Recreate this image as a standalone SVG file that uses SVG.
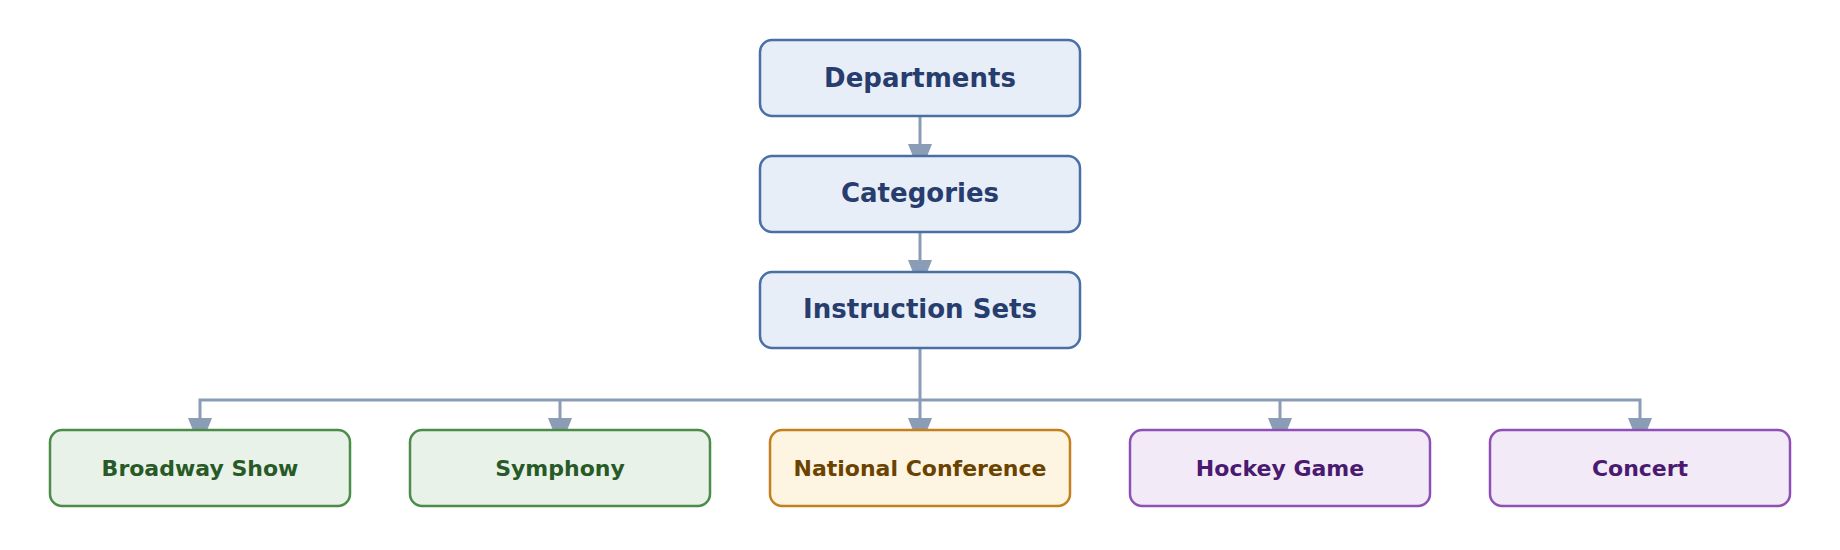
<svg xmlns="http://www.w3.org/2000/svg" width="1840" height="550" viewBox="0 0 1840 550">
  <style>
    .box { stroke-width: 2.5; }
    .blue { fill: #E8EEF8; stroke: #4A6FA5; }
    .green { fill: #E9F2E9; stroke: #4A8C48; }
    .orange { fill: #FDF4E2; stroke: #C4801E; }
    .purple { fill: #F2EAF6; stroke: #8E50B6; }
    .t1 { font-family: "DejaVu Sans", sans-serif; font-weight: bold; font-size: 26px; fill: #263D6E; text-anchor: middle; }
    .t2 { font-family: "DejaVu Sans", sans-serif; font-weight: bold; font-size: 22px; text-anchor: middle; }
    .tg { fill: #285A28; }
    .to { fill: #6B4300; }
    .tp { fill: #4A1A70; }
    .conn { stroke: #8A9CB6; stroke-width: 3; fill: none; }
    .head { fill: #8A9CB6; }
  </style>
  <g id="connectors">
    <path class="conn" d="M920 116 V150"/>
    <path class="conn" d="M920 232 V266"/>
    <path class="conn" d="M920 348 V424 M200 424 V400 H1640 V424 M560 400 V424 M1280 400 V424"/>
    <polygon class="head" points="908,144 932,144 920,174"/>
    <polygon class="head" points="908,260 932,260 920,290"/>
    <polygon class="head" points="188,418 212,418 200,448"/>
    <polygon class="head" points="548,418 572,418 560,448"/>
    <polygon class="head" points="908,418 932,418 920,448"/>
    <polygon class="head" points="1268,418 1292,418 1280,448"/>
    <polygon class="head" points="1628,418 1652,418 1640,448"/>
  </g>
  <g id="departments">
    <rect class="box blue" x="760" y="40" width="320" height="76" rx="12"/>
    <text class="t1" x="920" y="87">Departments</text>
  </g>
  <g id="categories">
    <rect class="box blue" x="760" y="156" width="320" height="76" rx="12"/>
    <text class="t1" x="920" y="202">Categories</text>
  </g>
  <g id="instruction-sets">
    <rect class="box blue" x="760" y="272" width="320" height="76" rx="12"/>
    <text class="t1" x="920" y="318">Instruction Sets</text>
  </g>
  <g id="broadway-show">
    <rect class="box green" x="50" y="430" width="300" height="76" rx="12"/>
    <text class="t2 tg" x="200" y="476">Broadway Show</text>
  </g>
  <g id="symphony">
    <rect class="box green" x="410" y="430" width="300" height="76" rx="12"/>
    <text class="t2 tg" x="560" y="476">Symphony</text>
  </g>
  <g id="national-conference">
    <rect class="box orange" x="770" y="430" width="300" height="76" rx="12"/>
    <text class="t2 to" x="920" y="476">National Conference</text>
  </g>
  <g id="hockey-game">
    <rect class="box purple" x="1130" y="430" width="300" height="76" rx="12"/>
    <text class="t2 tp" x="1280" y="476">Hockey Game</text>
  </g>
  <g id="concert">
    <rect class="box purple" x="1490" y="430" width="300" height="76" rx="12"/>
    <text class="t2 tp" x="1640" y="476">Concert</text>
  </g>
</svg>
